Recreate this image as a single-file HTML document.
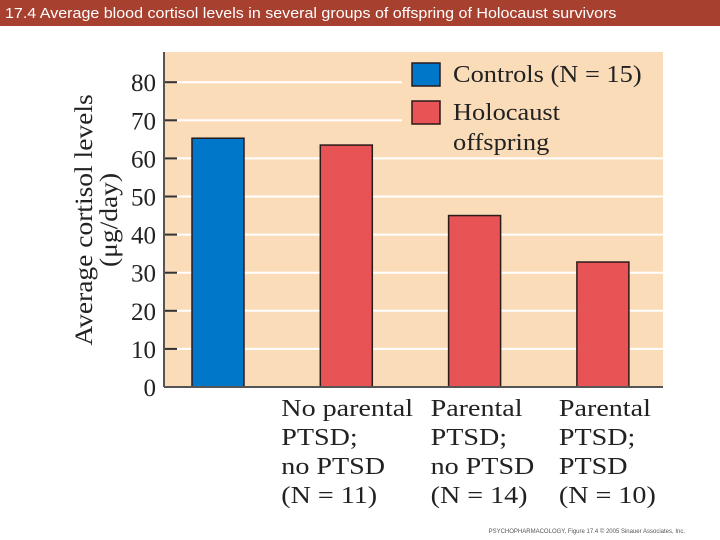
<!DOCTYPE html>
<html><head><meta charset="utf-8"><style>
body{margin:0;width:720px;height:540px;background:#fff;overflow:hidden;position:relative;font-family:"Liberation Serif",serif}
#hdr{position:absolute;left:0;top:0;width:720px;height:26px;background:#a8402f}
#hdr span{position:absolute;left:5px;top:0;color:#fff;font:15px "Liberation Sans",sans-serif;line-height:27px;white-space:nowrap;transform:scaleX(1.07);transform-origin:left center}
</style></head><body>
<div id="hdr"><span>17.4  Average blood cortisol levels in several groups of offspring of Holocaust survivors</span></div>
<svg id="chart" width="720" height="540" style="position:absolute;left:0;top:0"></svg>
<script>
const categories=[["",""],["No parental","PTSD;","no PTSD","(N = 11)"],["Parental","PTSD;","no PTSD","(N = 14)"],["Parental","PTSD;","PTSD","(N = 10)"]];
const values=[65.3,63.5,45,32.8];
const groups=["control","holocaust","holocaust","holocaust"];
const ticks=[0,10,20,30,40,50,60,70,80];
const NS="http://www.w3.org/2000/svg";
const svg=document.getElementById('chart');
function el(t,a,p){const e=document.createElementNS(NS,t);for(const k in a)e.setAttribute(k,a[k]);(p||svg).appendChild(e);return e;}
const L=164,R=663,T=52,B=387;
function y(v){return B-v*3.81;}
function x(i){return 192+i*128.3;}
const bw=52;
const bg=el('rect',{x:L,y:T,width:R-L,height:B-T,fill:'#fbdcb8'});


ticks.forEach(t=>{
 if(t>0){const g=el('line',{x1:177,x2:R,y1:y(t),y2:y(t),stroke:'#fff','stroke-width':2});
 
 }
 const tk=el('line',{x1:L,x2:177,y1:y(t),y2:y(t),stroke:'#333','stroke-width':2});
 
 
 const tl=el('text',{x:156,y:y(t)+9,'text-anchor':'end','font-size':25,fill:'#222','font-family':'Liberation Serif, serif'});
 tl.textContent=t;
 
 
});
const lb=el('rect',{x:402,y:T,width:R-402,height:100,fill:'#fbdcb8'});


values.forEach((v,i)=>{
 const r=el('rect',{x:x(i),y:y(v),width:bw,height:B-y(v),fill:groups[i]=='control'?'#0077c8':'#e85356',stroke:'#2a1a1a','stroke-width':1.5});
 
 
 categories[i].forEach((ln,j)=>{
  if(!ln)return;
  const lx=x(i)-(i==1?39:18);
  const t=el('text',{x:0,y:0,transform:'translate('+lx+','+(416+j*29)+') scale(1.17,1)','font-size':24,fill:'#222','font-family':'Liberation Serif, serif'});
  t.textContent=ln;
  
  
 });
});
const ax=el('line',{x1:L,x2:L,y1:T,y2:B,stroke:'#555','stroke-width':2});


const xa=el('line',{x1:L,x2:R,y1:B,y2:B,stroke:'#555','stroke-width':2});


[["#0077c8",["Controls (N = 15)"],63],["#e85356",["Holocaust","offspring"],101]].forEach(([c,lines,yy])=>{
 const b=el('rect',{x:412,y:yy,width:28,height:23,fill:c,stroke:'#2a1a1a','stroke-width':1.5});
 
 
 lines.forEach((ln,j)=>{
  const t=el('text',{x:0,y:0,transform:'translate(453,'+(yy+19+j*30)+') scale(1.1,1)','font-size':24,fill:'#222','font-family':'Liberation Serif, serif'});
  t.textContent=ln;
  
  
 });
});
const yt=el('text',{transform:'translate(92,220) rotate(-90) scale(1.1,1)','text-anchor':'middle','font-size':25,fill:'#222','font-family':'Liberation Serif, serif'});
yt.textContent='Average cortisol levels';


const yu=el('text',{transform:'translate(117,220) rotate(-90) scale(1.1,1)','text-anchor':'middle','font-size':25,fill:'#222','font-family':'Liberation Serif, serif'});
yu.textContent='(μg/day)';


const cr=el('text',{x:685,y:533,'text-anchor':'end','font-size':6,fill:'#555','font-family':'Liberation Sans, sans-serif'});
cr.textContent='PSYCHOPHARMACOLOGY, Figure 17.4  © 2005 Sinauer Associates, Inc.';


</script>
</body></html>
